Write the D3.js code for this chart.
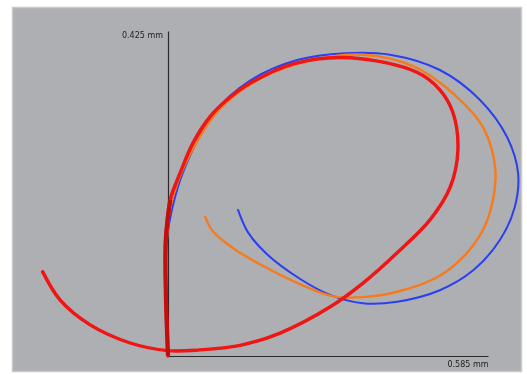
<!DOCTYPE html>
<html>
<head>
<meta charset="utf-8">
<script src="https://cdn.jsdelivr.net/npm/d3@7/dist/d3.min.js"></script>
<style>
  html, body { margin: 0; padding: 0; background: #ffffff; }
  svg { display: block; }
  text { font-family: "DejaVu Sans", sans-serif; }
</style>
</head>
<body>
<svg id="chart" width="527" height="374"></svg>
<script>
// Axis extents (mm) and their end labels
const xMax = 0.585;
const yMax = 0.425;
const axisUnit = "mm";

// Trajectory traces, [x mm, y mm]
const blueTrace = [
  [0.000, 0.000], [-0.004, 0.086], [-0.002, 0.152], [0.007, 0.191], [0.029, 0.243],
  [0.082, 0.316], [0.150, 0.360], [0.236, 0.387], [0.324, 0.396], [0.406, 0.394],
  [0.497, 0.374], [0.570, 0.335], [0.620, 0.286], [0.640, 0.239], [0.634, 0.195],
  [0.607, 0.152], [0.558, 0.112], [0.497, 0.086], [0.419, 0.071], [0.356, 0.069],
  [0.296, 0.080], [0.241, 0.101], [0.181, 0.133], [0.146, 0.162], [0.128, 0.191]
];

const orangeTrace = [
  [0.000, 0.000], [-0.004, 0.086], [-0.002, 0.152], [0.005, 0.197], [0.037, 0.259],
  [0.095, 0.323], [0.172, 0.364], [0.265, 0.387], [0.356, 0.394], [0.448, 0.379],
  [0.528, 0.339], [0.576, 0.299], [0.598, 0.247], [0.594, 0.204], [0.576, 0.165],
  [0.539, 0.129], [0.492, 0.103], [0.419, 0.084], [0.356, 0.077], [0.302, 0.078],
  [0.241, 0.094], [0.181, 0.115], [0.119, 0.141], [0.082, 0.163], [0.068, 0.182]
];

const redTrace = [
  [0.000, 0.000], [-0.004, 0.086], [-0.004, 0.152], [0.004, 0.204], [0.022, 0.239],
  [0.046, 0.279], [0.077, 0.313], [0.108, 0.335], [0.144, 0.354], [0.229, 0.382],
  [0.333, 0.390], [0.455, 0.371], [0.497, 0.348], [0.521, 0.318], [0.530, 0.269],
  [0.516, 0.221], [0.479, 0.178], [0.419, 0.135], [0.356, 0.095], [0.296, 0.064],
  [0.205, 0.030], [0.132, 0.014], [0.058, 0.008], [0.000, 0.007], [-0.069, 0.017],
  [-0.143, 0.041], [-0.197, 0.073], [-0.229, 0.110]
];
// number of leading points of the red trace that form the initial rise
const redRiseCount = 4;

const svg = d3.select("#chart");

// panel
svg.append("rect")
  .attr("x", 12.5).attr("y", 7.5)
  .attr("width", 509).attr("height", 364)
  .attr("fill", "#adafb3")
  .attr("stroke", "#c9cacd")
  .attr("stroke-width", 1.5);

const x = d3.scaleLinear().domain([0, xMax]).range([168, 488]);
const y = d3.scaleLinear().domain([0, yMax]).range([356, 31]);

const defs = svg.append("defs");
defs.append("filter").attr("id", "soft")
  .append("feGaussianBlur").attr("stdDeviation", 0.55);
defs.append("filter").attr("id", "softLine")
  .append("feGaussianBlur").attr("stdDeviation", 0.35);

// axes: a single labelled tick at the far end of each axis
const fmt = d => d3.format(".3f")(d) + " " + axisUnit;

const yAxis = svg.append("g")
  .attr("transform", `translate(${x(0)},0)`)
  .call(d3.axisLeft(y).tickValues([yMax]).tickSize(0).tickPadding(5).tickFormat(fmt));
yAxis.select(".domain").attr("stroke", "#2a2a2a").attr("stroke-width", 1.2);
yAxis.selectAll("text")
  .attr("fill", "#222").attr("font-size", 8).attr("dy", "0.75em")
  .attr("filter", "url(#soft)");

const xAxis = svg.append("g")
  .attr("transform", `translate(0,${y(0)})`)
  .call(d3.axisBottom(x).tickValues([xMax]).tickSize(0).tickPadding(5).tickFormat(fmt));
xAxis.select(".domain").attr("stroke", "#2a2a2a").attr("stroke-width", 1.2);
xAxis.selectAll("text")
  .attr("fill", "#222").attr("font-size", 8).attr("text-anchor", "end")
  .attr("filter", "url(#soft)");

// centripetal Catmull-Rom spline through the sampled positions
const line = d3.line()
  .x(d => x(d[0]))
  .y(d => y(d[1]))
  .curve(d3.curveCatmullRom.alpha(0.5));

const traces = svg.append("g").attr("fill", "none")
  .attr("stroke-linecap", "round").attr("stroke-linejoin", "round")
  .attr("filter", "url(#softLine)");

traces.append("path").datum(blueTrace)
  .attr("d", line).attr("stroke", "#2b3ff0").attr("stroke-width", 2);

traces.append("path").datum(orangeTrace)
  .attr("d", line).attr("stroke", "#f77a1c").attr("stroke-width", 2.4);

traces.append("path").datum(redTrace)
  .attr("d", line).attr("stroke", "#f01212").attr("stroke-width", 3.4);

// initial rise of the red trace, drawn heavier
traces.append("path").datum(redTrace.slice(0, redRiseCount))
  .attr("d", line).attr("stroke", "#c40a0e").attr("stroke-width", 4.2)
  .attr("stroke-linecap", "butt");
</script>
</body>
</html>
